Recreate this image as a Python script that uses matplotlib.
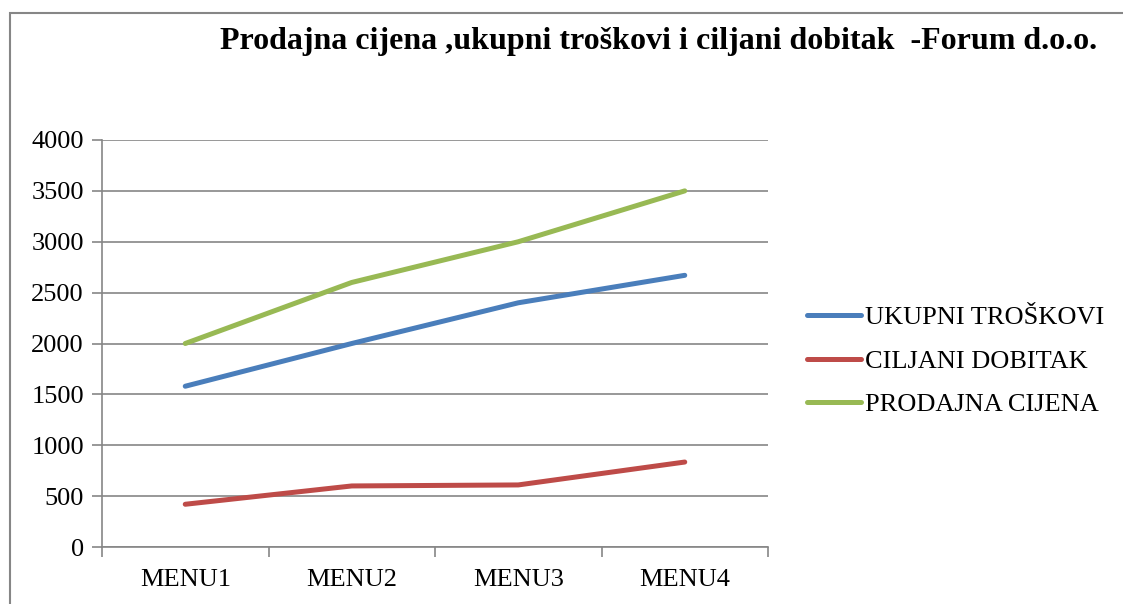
import matplotlib
matplotlib.use("Agg")
import matplotlib.pyplot as plt
from matplotlib.lines import Line2D
from matplotlib.patches import Rectangle

categories = ["MENU1", "MENU2", "MENU3", "MENU4"]
ukupni_troskovi = [1580, 2000, 2400, 2670]
ciljani_dobitak = [420, 600, 610, 835]
prodajna_cijena = [2000, 2600, 3000, 3500]
series_names = ["UKUPNI TROŠKOVI", "CILJANI DOBITAK", "PRODAJNA CIJENA"]
y_ticks = [0, 500, 1000, 1500, 2000, 2500, 3000, 3500, 4000]

plt.rcParams["font.family"] = ["Liberation Serif", "DejaVu Serif"]

W, H = 1123, 604
fig = plt.figure(figsize=(W / 100, H / 100), dpi=100)
ax = fig.add_axes([102 / W, 1 - 547 / H, (768 - 102) / W, (547 - 140) / H])

# frame around chart (runs past right/bottom edge)
fig.patches.append(Rectangle((10 / W, -0.1), 1.2, 1 - 13 / H + 0.1,
                             transform=fig.transFigure, fill=False,
                             edgecolor="#868686", linewidth=1.5))

colors = ["#4A7EBB", "#BE4B48", "#98B954"]
x = range(len(categories))
for vals, c, name in zip([ukupni_troskovi, ciljani_dobitak, prodajna_cijena], colors, series_names):
    ax.plot(x, vals, color=c, linewidth=3.6, solid_capstyle="round", label=name)

ax.set_xlim(-0.5, len(categories) - 0.5)
ax.set_ylim(0, 4000)
ax.set_yticks(y_ticks)
ax.set_yticklabels([str(v) for v in y_ticks], fontsize=19)
ax.set_xticks([i - 0.5 for i in range(len(categories) + 1)])
ax.set_xticklabels([])
ax.set_xticks(list(x), minor=True)
ax.set_xticklabels(categories, minor=True, fontsize=19)
ax.tick_params(axis="x", which="minor", length=0, pad=16)
ax.tick_params(axis="x", which="major", length=7, color="#868686", width=1.2)
ax.tick_params(axis="y", length=7, color="#868686", width=1.2, pad=6)
ax.grid(axis="y", color="#868686", linewidth=1.2)
ax.set_axisbelow(True)
for s in ["top", "right"]:
    ax.spines[s].set_visible(False)
for s in ["left", "bottom"]:
    ax.spines[s].set_color("#868686")
    ax.spines[s].set_linewidth(1.2)

fig.text(659 / W, 1 - 41 / H, "Prodajna cijena ,ukupni troškovi i ciljani dobitak  -Forum d.o.o.",
         ha="center", va="center", fontsize=23, fontweight="bold")

handles = [Line2D([0], [0], color=c, linewidth=3.6, solid_capstyle="round") for c in colors]
fig.legend(handles, series_names, loc="center left", bbox_to_anchor=(807 / W, 1 - 361 / H),
           frameon=False, fontsize=19, handlelength=2.05, handletextpad=0.15, labelspacing=0.75,
           borderpad=0, borderaxespad=0)

fig.savefig("out.png", dpi=100, facecolor="white")
